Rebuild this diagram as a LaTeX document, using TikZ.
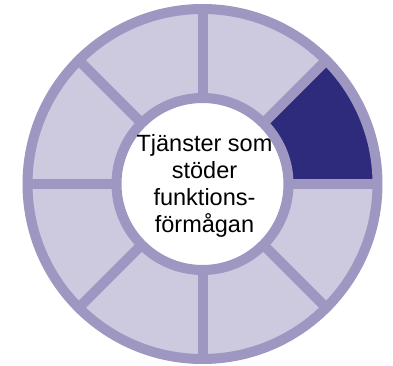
\documentclass[tikz,border=0pt]{standalone}
\usepackage{fontspec}
\setmainfont{Liberation Sans}
\usepackage{xcolor}
\usetikzlibrary{positioning}
\definecolor{ringline}{RGB}{157,151,193}
\definecolor{ringfill}{RGB}{205,201,223}
\definecolor{ringdark}{RGB}{46,42,124}

\begin{document}
\begin{tikzpicture}[
  x=1pt, y=1pt,
  spoke/.style={line width=10pt, draw=ringline},
  hubtext/.style={font=\fontsize{23.5}{27}\selectfont, align=center, inner sep=0pt}
]
\useasboundingbox (-202.5,-182) rectangle (190.5,184);

% Ring segments
\fill[ringfill, even odd rule] (0,0) circle (176) (0,0) circle (85);
\fill[ringdark] (0:85) arc (0:45:85) -- (45:176) arc (45:0:176) -- cycle;

% Spokes between segments
\foreach \a in {0,45,...,315}
  \draw[spoke] (\a:80) -- (\a:176);

% Rims
\draw[spoke, fill=white] (0,0) circle (86);
\draw[spoke] (0,0) circle (175);

% Hub label
\node[hubtext] (hub) at (2,-1.5) {Tjänster som\\stöder\\funktions-\\förmågan};
\end{tikzpicture}
\end{document}
